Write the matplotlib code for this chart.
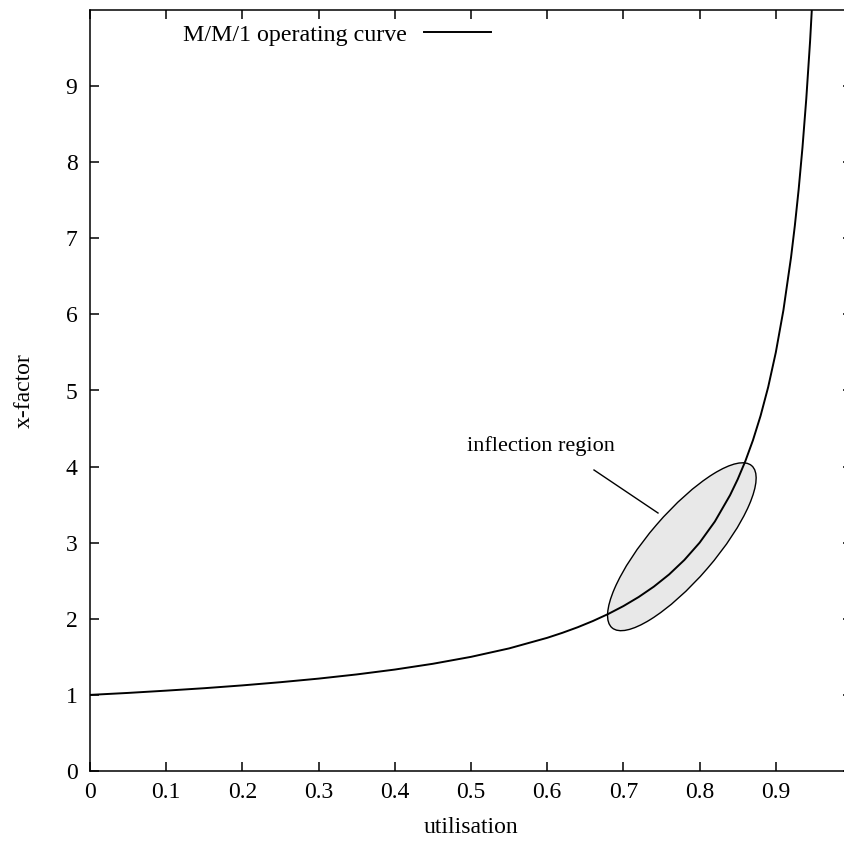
import matplotlib
matplotlib.use("Agg")
import matplotlib.pyplot as plt
from matplotlib.patches import Ellipse

plt.rcParams['font.family'] = ['Liberation Serif', 'DejaVu Serif']
plt.rcParams['font.size'] = 17

# utilisation vs x-factor
utilisation = [0, 0.05, 0.1, 0.15, 0.2, 0.25, 0.3, 0.35, 0.4, 0.45, 0.5, 0.55,
               0.6, 0.62, 0.64, 0.66, 0.68, 0.7, 0.72, 0.74, 0.76, 0.78, 0.8,
               0.82, 0.84, 0.85, 0.86, 0.87, 0.88, 0.89, 0.9, 0.91, 0.92,
               0.925, 0.93, 0.935, 0.94, 0.945, 0.95]
x_factor = [1.0, 1.026, 1.056, 1.088, 1.125, 1.167, 1.214, 1.269, 1.333, 1.409,
            1.5, 1.611, 1.75, 1.816, 1.889, 1.971, 2.063, 2.167, 2.286, 2.423,
            2.583, 2.773, 3.0, 3.278, 3.625, 3.833, 4.071, 4.346, 4.667, 5.045,
            5.5, 6.056, 6.75, 7.167, 7.643, 8.192, 8.833, 9.591, 10.5]

x_ticks = [0, 0.1, 0.2, 0.3, 0.4, 0.5, 0.6, 0.7, 0.8, 0.9]
x_ticklabels = ['0', '0.1', '0.2', '0.3', '0.4', '0.5', '0.6', '0.7', '0.8', '0.9']
y_ticks = [0, 1, 2, 3, 4, 5, 6, 7, 8, 9]

W, H = 844, 846
fig = plt.figure(figsize=(W / 100, H / 100), dpi=100)
ax = fig.add_axes([90 / W, (H - 771) / H, 762 / W, 761 / H])

ax.plot(utilisation, x_factor, color='black', lw=1.4, label='M/M/1 operating curve')

# shaded inflection region
ell = Ellipse((0.7767, 0.2947), 0.281, 0.088, angle=49.3, transform=ax.transAxes,
              facecolor='#e8e8e8', edgecolor='black', lw=1.0, zorder=1)
ax.add_patch(ell)
ax.plot([(594 - 90) / 762, (658 - 90) / 762], [(771 - 470) / 76.1, (771 - 513) / 76.1],
        color='black', lw=1.0)
ax.text((467 - 90) / 762, (771 - 451) / 76.1, 'inflection region', ha='left',
        va='baseline', fontsize=16)

ax.set_xlim(0, 1)
ax.set_ylim(0, 10)
ax.set_xticks(x_ticks)
ax.set_xticklabels(x_ticklabels)
ax.set_yticks(y_ticks)
ax.tick_params(direction='in', length=6.5, width=1.1, top=True, right=True, labelsize=17)
ax.tick_params(axis='x', pad=8)
ax.tick_params(axis='y', pad=9)
for s in ax.spines.values():
    s.set_linewidth(1.1)

ax.set_xlabel('utilisation', labelpad=10)
ax.set_ylabel('x-factor', labelpad=22)

ax.legend(loc='center left', bbox_to_anchor=(183 / W, 1 - 35 / H),
          bbox_transform=fig.transFigure, frameon=False, markerfirst=False,
          fontsize=17.3, borderpad=0, borderaxespad=0, handlelength=2.8,
          handletextpad=0.7)

fig.savefig('out.png', dpi=100)
